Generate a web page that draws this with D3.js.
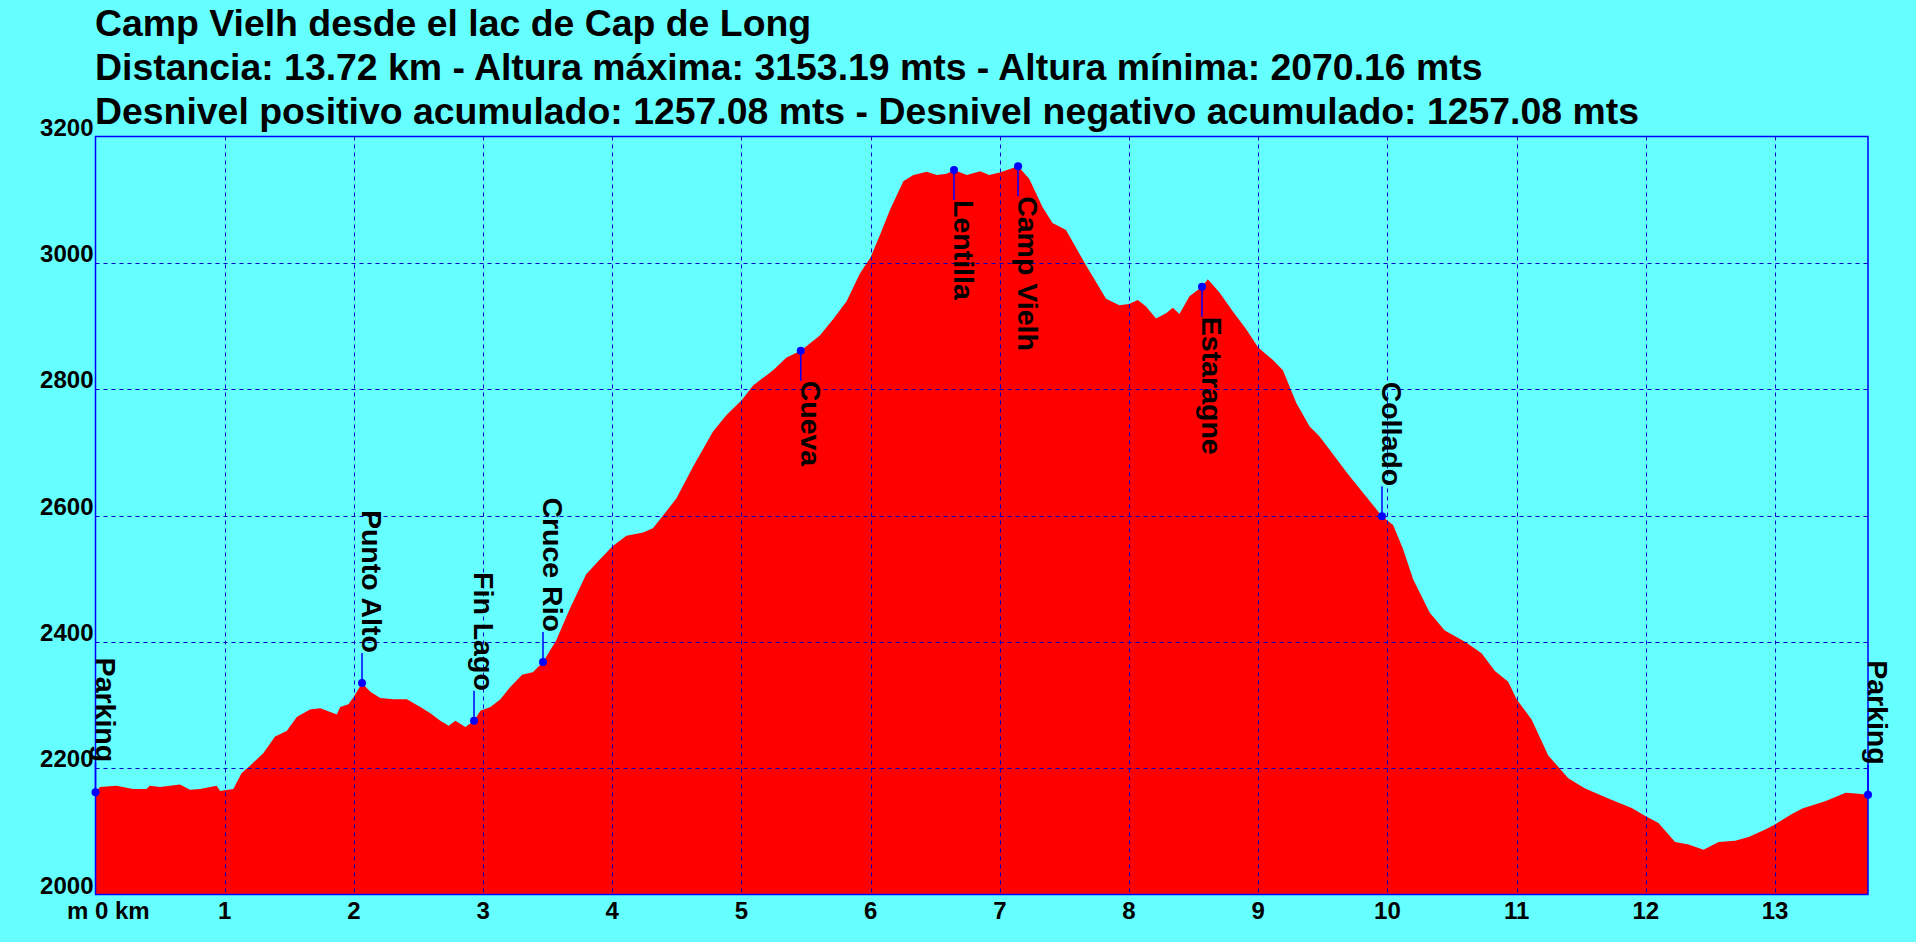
<!DOCTYPE html>
<html>
<head>
<meta charset="utf-8">
<title>Camp Vielh desde el lac de Cap de Long</title>
<style>
  body { margin: 0; background: #66ffff; }
  svg { display: block; }
  text { font-family: "Liberation Sans", Arial, sans-serif; font-weight: bold; fill: #000; }
</style>
</head>
<body>
<div id="container"></div>
<script src="https://cdn.jsdelivr.net/npm/d3@7"></script>
<script>
// Title lines
const titleLines = [
  "Camp Vielh desde el lac de Cap de Long",
  "Distancia: 13.72 km - Altura máxima: 3153.19 mts - Altura mínima: 2070.16 mts",
  "Desnivel positivo acumulado: 1257.08 mts - Desnivel negativo acumulado: 1257.08 mts"
];

// Elevation profile (km, metres)
const profileKm = [
  0, 0.034, 0.163, 0.29, 0.395, 0.42, 0.5, 0.654, 0.731, 0.81, 0.938, 0.964, 1.067,
  1.13, 1.196, 1.3, 1.39, 1.48, 1.558, 1.66, 1.74, 1.817, 1.868, 1.894, 1.958, 2.0,
  2.063, 2.127, 2.204, 2.307, 2.41, 2.514, 2.592, 2.669, 2.734, 2.786, 2.863, 2.93,
  2.979, 3.057, 3.134, 3.212, 3.302, 3.367, 3.385, 3.464, 3.566, 3.669, 3.798, 3.902,
  4.0, 4.109, 4.238, 4.315, 4.393, 4.496, 4.625, 4.78, 4.884, 5.0, 5.09, 5.245, 5.349,
  5.459, 5.607, 5.711, 5.814, 5.917, 6.0, 6.072, 6.15, 6.253, 6.331, 6.434, 6.512,
  6.59, 6.645, 6.745, 6.848, 6.917, 7.0, 7.141, 7.227, 7.331, 7.408, 7.512, 7.667,
  7.822, 7.925, 8.0, 8.067, 8.132, 8.209, 8.287, 8.339, 8.39, 8.468, 8.565, 8.61, 8.7,
  8.804, 8.907, 9.0, 9.114, 9.191, 9.295, 9.398, 9.475, 9.579, 9.682, 9.811, 9.958,
  10.044, 10.121, 10.199, 10.328, 10.444, 10.6, 10.729, 10.832, 10.935, 11.0, 11.116,
  11.245, 11.4, 11.53, 11.71, 11.891, 12.0, 12.098, 12.227, 12.331, 12.447, 12.563,
  12.692, 12.796, 12.925, 13.0, 13.134, 13.212, 13.393, 13.548, 13.625, 13.72
];
const profileElev = [
  2162, 2170, 2172, 2167, 2167, 2172, 2170, 2174, 2166, 2167, 2172, 2164, 2167,
  2192, 2204, 2224, 2250, 2259, 2281, 2293, 2295, 2289, 2285, 2297, 2301, 2313,
  2335, 2321, 2311, 2309, 2309, 2297, 2287, 2275, 2267, 2275, 2265, 2275,
  2291, 2297, 2309, 2329, 2348, 2351, 2352, 2368, 2402, 2451, 2507, 2530,
  2551, 2568, 2573, 2580, 2600, 2627, 2677, 2733, 2759, 2782, 2806, 2830, 2850,
  2861, 2885, 2911, 2939, 2983, 3009, 3044, 3084, 3129, 3139, 3144, 3139,
  3141, 3147, 3139, 3145, 3139, 3143, 3153, 3133, 3088, 3063, 3052, 2996,
  2943, 2933, 2935, 2941, 2931, 2912, 2920, 2929, 2919, 2947, 2962, 2974, 2953,
  2923, 2895, 2866, 2846, 2830, 2778, 2741, 2725, 2697, 2669, 2636, 2599,
  2585, 2547, 2499, 2446, 2418, 2400, 2382, 2354, 2337, 2309, 2277,
  2220, 2184, 2168, 2152, 2137, 2124, 2113, 2083, 2079, 2071, 2083,
  2085, 2091, 2103, 2111, 2128, 2136, 2148, 2161, 2160, 2158
];

// Waypoints
const waypointNames = ["Parking", "Punto Alto", "Fin Lago", "Cruce Rio", "Cueva",
  "Lentilla", "Camp Vielh", "Estaragne", "Collado", "Parking"];
const waypointKm = [0, 2.063, 2.93, 3.464, 5.459, 6.645, 7.141, 8.565, 9.958, 13.72];
const waypointElev = [2162, 2335, 2275, 2368, 2861, 3147, 3153, 2962, 2599, 2158];

// Axis ticks
const xTicks = [1, 2, 3, 4, 5, 6, 7, 8, 9, 10, 11, 12, 13];
const xTickLabels = ["1", "2", "3", "4", "5", "6", "7", "8", "9", "10", "11", "12", "13"];
const yTicks = [2000, 2200, 2400, 2600, 2800, 3000, 3200];

const width = 1916;
const height = 942;
const marginLeft = 95.5;
const marginRight = 48;
const marginTop = 136.5;
const marginBottom = 47.5;

const x = d3.scaleLinear()
    .domain([0, 13.72])
    .range([marginLeft, width - marginRight]);

const y = d3.scaleLinear()
    .domain([2000, 3200])
    .range([height - marginBottom, marginTop]);

const svg = d3.create("svg")
    .attr("width", width)
    .attr("height", height);

// Title
svg.append("g")
  .selectAll("text")
  .data(titleLines)
  .join("text")
    .attr("x", 95)
    .attr("y", (d, i) => 36 + i * 44)
    .attr("font-size", 37.4)
    .text(d => d);

// Profile area
const profile = profileKm.map((k, i) => ({km: k, elev: profileElev[i]}));
const area = d3.area()
    .x(d => x(d.km))
    .y0(y(2000))
    .y1(d => y(d.elev));

svg.append("path")
    .attr("fill", "#ff0000")
    .attr("d", area(profile));

// Grid lines (dashed, over the area)
const grid = svg.append("g")
    .attr("stroke", "#0000cc")
    .attr("stroke-width", 1)
    .attr("stroke-dasharray", "4,4");

grid.selectAll("line.v")
  .data(xTicks)
  .join("line")
    .attr("class", "v")
    .attr("x1", d => Math.round(x(d)) + 0.5)
    .attr("x2", d => Math.round(x(d)) + 0.5)
    .attr("y1", y(3200))
    .attr("y2", y(2000));

grid.selectAll("line.h")
  .data(yTicks.slice(1, -1))
  .join("line")
    .attr("class", "h")
    .attr("x1", x(0))
    .attr("x2", x(13.72))
    .attr("y1", d => Math.round(y(d)) + 0.5)
    .attr("y2", d => Math.round(y(d)) + 0.5);

// Plot frame
svg.append("rect")
    .attr("x", x(0))
    .attr("y", y(3200))
    .attr("width", x(13.72) - x(0))
    .attr("height", y(2000) - y(3200))
    .attr("fill", "none")
    .attr("stroke", "#0000ff")
    .attr("stroke-width", 1.5);

// Y axis labels
svg.append("g")
  .selectAll("text")
  .data(yTicks)
  .join("text")
    .attr("x", x(0) - 2)
    .attr("y", d => y(d) - 1)
    .attr("text-anchor", "end")
    .attr("font-size", 24)
    .text(d => d);

// X axis labels
svg.append("g")
  .selectAll("text")
  .data(xTicks)
  .join("text")
    .attr("x", d => x(d))
    .attr("y", 919)
    .attr("text-anchor", "middle")
    .attr("font-size", 24)
    .text((d, i) => xTickLabels[i]);

svg.append("text")
    .attr("x", x(0) - 28.5)
    .attr("y", 919)
    .attr("font-size", 24)
    .text("m 0 km");

// Waypoints: dot, leader line and rotated label
const waypoints = waypointNames.map((n, i) => ({name: n, km: waypointKm[i], elev: waypointElev[i]}));
const midElev = 2600;
const gap = 30;

const wp = svg.append("g")
  .selectAll("g")
  .data(waypoints)
  .join("g")
    .attr("transform", d => `translate(${x(d.km)},${y(d.elev)})`);

wp.append("line")
    .attr("stroke", "#0000ff")
    .attr("stroke-width", 1.5)
    .attr("x1", 0)
    .attr("x2", 0)
    .attr("y1", 0)
    .attr("y2", d => d.elev > midElev ? gap : -gap);

wp.append("circle")
    .attr("r", 4)
    .attr("fill", "#0000ff");

wp.append("text")
    .attr("font-size", 28.5)
    .attr("text-anchor", d => d.elev > midElev ? "start" : "end")
    .attr("transform", d => `translate(0,${d.elev > midElev ? gap : -gap}) rotate(90)`)
    .text(d => d.name);

container.append(svg.node());
</script>
</body>
</html>
